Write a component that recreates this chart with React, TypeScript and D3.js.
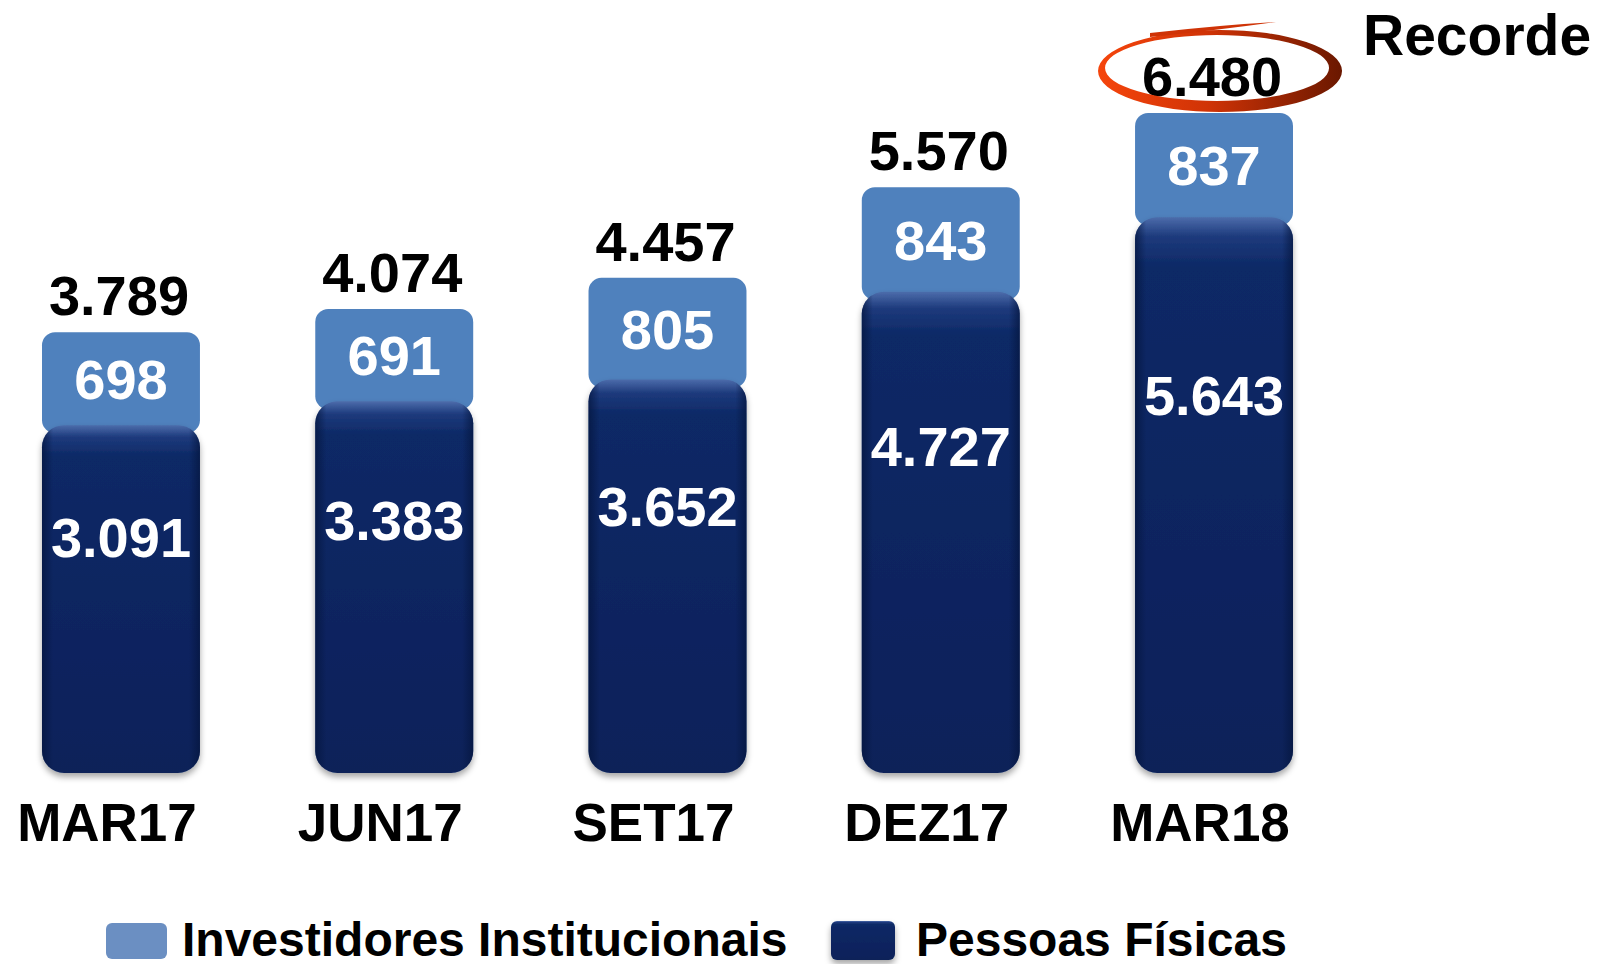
import React from 'react';
import * as d3 from 'd3';

const categories = ['MAR17', 'JUN17', 'SET17', 'DEZ17', 'MAR18'];
const institucionais = [698, 691, 805, 843, 837];
const pessoasFisicas = [3091, 3383, 3652, 4727, 5643];
const totals = [3789, 4074, 4457, 5570, 6480];
const legendLabels = ['Investidores Institucionais', 'Pessoas Físicas'];
const recordeLabel = 'Recorde';

const W = 1599;
const H = 964;
const FONT = '"Liberation Sans", Arial, Helvetica, sans-serif';

const fmt = d3
  .formatLocale({ decimal: ',', thousands: '.', grouping: [3], currency: ['R$', ''] })
  .format(',d');

function ellipsePath(cx: number, cy: number, rx: number, ry: number) {
  return `M${cx - rx},${cy} A${rx},${ry} 0 1 0 ${cx + rx},${cy} A${rx},${ry} 0 1 0 ${cx - rx},${cy} Z`;
}

export default function App() {
  const x = d3.scaleBand<string>().domain(categories).range([42, 1293]).paddingInner(0.422).paddingOuter(0);
  const y = d3.scaleLinear().domain([-1178, 6480]).range([773, 149]);
  const bw = x.bandwidth();
  const base = y(-1178);
  const boxPad = 36; // label box padding on top of institutional segment

  const last = categories.length - 1;
  const recCx = (x(categories[last]) as number) + bw / 2 + 6;
  const recCy = y(totals[last]) - boxPad - 42;

  return (
    <svg
      width={W}
      height={H}
      style={{ position: 'absolute', left: 0, top: 0, background: '#fff' }}
      fontFamily={FONT}
      fontWeight="bold"
    >
      <defs>
        <linearGradient id="darkV" x1="0" y1="0" x2="0" y2="1">
          <stop offset="0" stopColor="#4c6cab" />
          <stop offset="0.035" stopColor="#1d3a7c" />
          <stop offset="0.09" stopColor="#0d2966" />
          <stop offset="0.6" stopColor="#0a245f" />
          <stop offset="1" stopColor="#092159" />
        </linearGradient>
        <linearGradient id="darkH" x1="0" y1="0" x2="1" y2="0">
          <stop offset="0" stopColor="#04153d" stopOpacity="0.7" />
          <stop offset="0.07" stopColor="#04153d" stopOpacity="0" />
          <stop offset="0.93" stopColor="#04153d" stopOpacity="0" />
          <stop offset="1" stopColor="#04153d" stopOpacity="0.7" />
        </linearGradient>
        <linearGradient id="ringGrad" x1="0" y1="0" x2="1" y2="0">
          <stop offset="0" stopColor="#f5450c" />
          <stop offset="0.45" stopColor="#d03306" />
          <stop offset="1" stopColor="#6a1800" />
        </linearGradient>
        <filter id="shadow" x="-10%" y="-10%" width="120%" height="120%">
          <feDropShadow dx="0" dy="4" stdDeviation="3" floodColor="#000" floodOpacity="0.35" />
        </filter>
      </defs>

      {categories.map((c, i) => {
        const x0 = x(c) as number;
        const cx = x0 + bw / 2;
        const yDark = y(pessoasFisicas[i]);
        const yTot = y(pessoasFisicas[i] + institucionais[i]) - boxPad;
        const darkH = base - yDark;
        return (
          <g key={c}>
            <rect x={x0} y={yTot} width={bw} height={yDark - yTot + 8} rx={13} fill="#4f81bd" />
            <g filter="url(#shadow)">
              <rect x={x0} y={yDark} width={bw} height={darkH} rx={22} fill="url(#darkV)" />
            </g>
            <rect x={x0} y={yDark} width={bw} height={darkH} rx={22} fill="url(#darkH)" />
            <text x={cx} y={(yTot + yDark) / 2} dy="0.36em" textAnchor="middle" fill="#fff" fontSize={56}>
              {fmt(institucionais[i])}
            </text>
            <text x={cx} y={yDark + 0.32 * darkH} dy="0.36em" textAnchor="middle" fill="#fff" fontSize={56}>
              {fmt(pessoasFisicas[i])}
            </text>
            <text x={cx - 2} y={yTot - 17} textAnchor="middle" fill="#000" fontSize={56}>
              {fmt(totals[i])}
            </text>
            <text x={cx - 14} y={841} textAnchor="middle" fill="#000" fontSize={53}>
              {c}
            </text>
          </g>
        );
      })}

      {/* Recorde highlight */}
      <path
        d={ellipsePath(recCx, recCy, 122, 41) + ' ' + ellipsePath(recCx - 3, recCy - 3, 112, 33)}
        fillRule="evenodd"
        fill="url(#ringGrad)"
      />
      <path
        d={`M${recCx - 70},${recCy - 38} Q${recCx},${recCy - 46} ${recCx + 56},${recCy - 49} Q${recCx},${recCy - 41} ${recCx - 70},${recCy - 34} Z`}
        fill="#cf3306"
      />
      <text x={1363} y={55} fill="#000" fontSize={57}>
        {recordeLabel}
      </text>

      {/* Legend */}
      <rect x={106} y={923} width={61} height={36} rx={6} fill="#6b8fc2" />
      <text x={182} y={956} fill="#000" fontSize={48}>
        {legendLabels[0]}
      </text>
      <g filter="url(#shadow)">
        <rect x={831} y={921} width={64} height={39} rx={6} fill="url(#darkV)" />
      </g>
      <text x={916} y={956} fill="#000" fontSize={48}>
        {legendLabels[1]}
      </text>
    </svg>
  );
}
